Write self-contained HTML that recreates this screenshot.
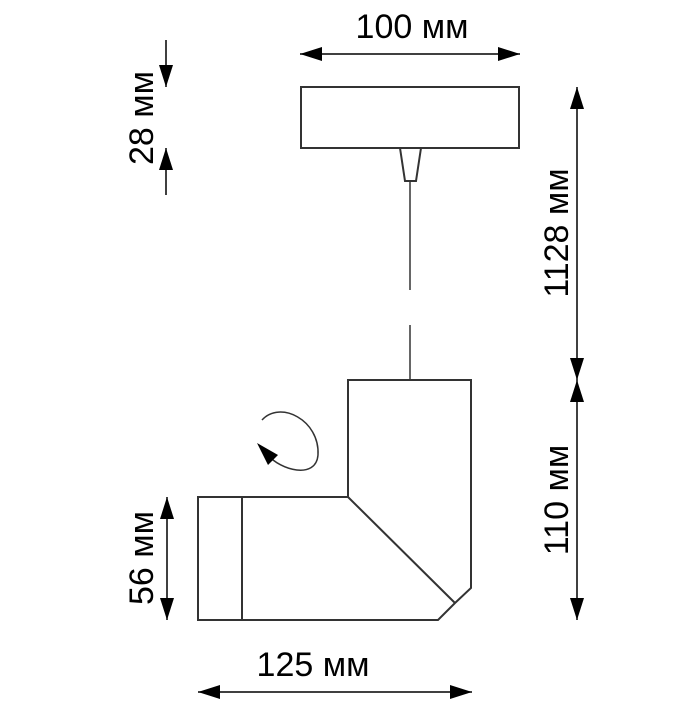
<!DOCTYPE html>
<html><head><meta charset="utf-8"><style>body{margin:0;background:#fff}</style></head>
<body>
<svg width="700" height="700" viewBox="0 0 700 700" xmlns="http://www.w3.org/2000/svg" font-family="Liberation Sans, sans-serif">
<defs>
<marker id="a" viewBox="0 0 10 10" refX="10" refY="5" markerWidth="22" markerHeight="14" markerUnits="userSpaceOnUse" orient="auto-start-reverse" preserveAspectRatio="none"><path d="M0,0L10,5L0,10z" fill="#000"/></marker>
</defs>
<g fill="none" stroke="#333" stroke-width="2">
<rect x="301" y="87" width="218" height="61"/>
<path d="M400,148L405,181L416,181L421,148"/>
<path d="M410,181V290M410,325V380" stroke-width="1.5"/>
<path d="M348,497V380H471V588L455,603L438,620H198V497H348L455,603"/>
<path d="M242,497V620"/>
<path d="M262,420 C280,400 320,420 318,455 C316,480 280,470 268,455" stroke-width="1.5"/>
</g>
<path d="M257,443L278,455L268,465z" fill="#000"/>
<g stroke="#000" stroke-width="1.5" fill="none">
<line x1="300" y1="54" x2="520" y2="54" marker-start="url(#a)" marker-end="url(#a)"/>
<line x1="198" y1="692" x2="472" y2="692" marker-start="url(#a)" marker-end="url(#a)"/>
<line x1="166" y1="40" x2="166" y2="87" marker-end="url(#a)"/>
<line x1="166" y1="195" x2="166" y2="148" marker-end="url(#a)"/>
<line x1="167" y1="558" x2="167" y2="497" marker-end="url(#a)"/>
<line x1="167" y1="558" x2="167" y2="620" marker-end="url(#a)"/>
<line x1="577" y1="230" x2="577" y2="87" marker-end="url(#a)"/>
<line x1="577" y1="230" x2="577" y2="380" marker-end="url(#a)"/>
<line x1="577" y1="500" x2="577" y2="380" marker-end="url(#a)"/>
<line x1="577" y1="500" x2="577" y2="620" marker-end="url(#a)"/>
</g>
<g font-size="34" fill="#000" text-anchor="middle">
<text x="412" y="38">100 мм</text>
<text x="313" y="676">125 мм</text>
<text transform="translate(153,118) rotate(-90)">28 мм</text>
<text transform="translate(153,558) rotate(-90)">56 мм</text>
<text transform="translate(568,233) rotate(-90)">1128 мм</text>
<text transform="translate(568,500) rotate(-90)">110 мм</text>
</g>
</svg>
</body></html>
